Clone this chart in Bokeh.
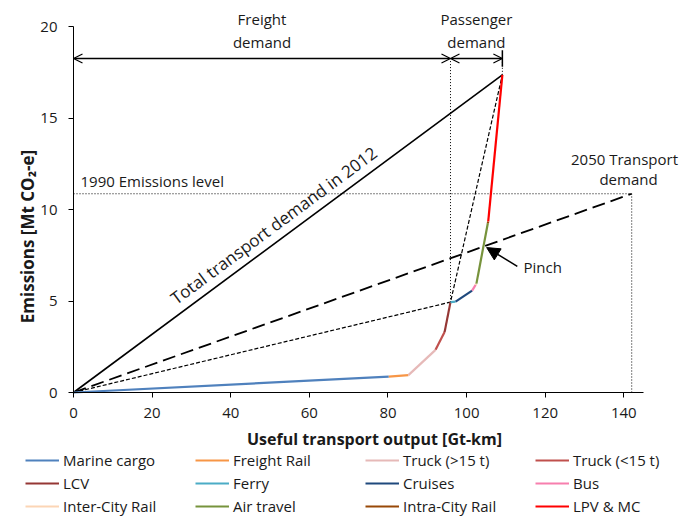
import math
from bokeh.plotting import figure
from bokeh.models import (Range1d, Arrow, OpenHead, NormalHead, Label, Legend,
                          LegendItem, FixedTicker)
from bokeh.embed import file_html
from bokeh.resources import INLINE

# ---------------- data ----------------
modes = ["Marine cargo", "Freight Rail", "Truck (>15 t)", "Truck (<15 t)",
         "LCV", "Ferry", "Cruises", "Bus",
         "Inter-City Rail", "Air travel", "Intra-City Rail", "LPV & MC"]
# cumulative useful output [Gt-km] and cumulative emissions [Mt CO2-e] at end of each mode
cum_output = [80.2, 85.2, 92.1, 94.4, 95.9, 97.2, 101.4, 102.3, 102.5, 105.4, 105.5, 109.1]
cum_emissions = [0.87, 0.95, 2.33, 3.30, 4.94, 4.97, 5.57, 5.88, 5.95, 9.25, 9.35, 17.36]
mode_colors = ["#4F81BD", "#F79646", "#E6B9B8", "#C0504D",
               "#953735", "#4BACC6", "#1F497D", "#F77FAE",
               "#FCD5B5", "#77933C", "#984807", "#FF0000"]

freight_demand = 95.9
freight_emissions = 4.94
total_demand_2012 = 109.1
total_emissions_2012 = 17.36
emissions_1990 = 10.86
demand_2050 = 142.0
bracket_level = 18.25
pinch_tail = (112.9, 6.89)
pinch_head = (105.1, 7.92)

x_ticks = [0, 20, 40, 60, 80, 100, 120, 140]
y_ticks = [0, 5, 10, 15, 20]
X_AXIS_MAX, Y_AXIS_MAX = 145, 20

# ---------------- layout (pixels) ----------------
W, H = 690, 517
FRAME_LEFT, FRAME_TOP = 73, 26
PLOT_W, PLOT_H = 570, 366
FONT = "Open Sans"
TXT = "#1a1a1a"

px_x = PLOT_W / X_AXIS_MAX
px_y = PLOT_H / Y_AXIS_MAX
x_lo = -FRAME_LEFT / px_x
x_hi = (W - FRAME_LEFT) / px_x
y_hi = (FRAME_TOP + PLOT_H) / px_y
y_lo = -(H - FRAME_TOP - PLOT_H) / px_y

p = figure(width=W, height=H,
           x_range=Range1d(x_lo, x_hi), y_range=Range1d(y_lo, y_hi),
           output_backend="svg", toolbar_location=None,
           min_border=0, min_border_left=0, min_border_right=0,
           min_border_top=0, min_border_bottom=0)
p.xgrid.visible = False
p.ygrid.visible = False
p.outline_line_color = None
p.background_fill_color = "white"
p.border_fill_color = "white"

for ax, ticks, bnds in ((p.xaxis[0], x_ticks, (0, X_AXIS_MAX)),
                        (p.yaxis[0], y_ticks, (0, Y_AXIS_MAX))):
    ax.fixed_location = 0
    ax.bounds = bnds
    ax.ticker = FixedTicker(ticks=ticks)
    ax.major_tick_in = 0
    ax.major_tick_out = 5
    ax.minor_tick_line_color = None
    ax.axis_line_color = "black"
    ax.axis_line_width = 1
    ax.major_tick_line_color = "black"
    ax.major_label_text_font = FONT
    ax.major_label_text_font_size = "15px"
    ax.major_label_text_color = TXT
p.xaxis[0].major_label_standoff = 10
p.yaxis[0].major_label_standoff = 11

# ---------------- reference lines ----------------
p.line([0, total_demand_2012], [0, total_emissions_2012], line_color="black", line_width=1.6)
p.line([0, demand_2050], [0, emissions_1990], line_color="black", line_width=1.8,
       line_dash="13 6")
p.line([0, demand_2050], [emissions_1990, emissions_1990], line_color="black",
       line_width=1, line_dash="1 2")
p.line([demand_2050, demand_2050], [0, emissions_1990], line_color="black",
       line_width=1, line_dash="1 2")
p.line([0, freight_demand, total_demand_2012], [0, freight_emissions, total_emissions_2012],
       line_color="black", line_width=1.2, line_dash="4 2")
p.line([freight_demand, freight_demand], [freight_emissions, bracket_level],
       line_color="black", line_width=1, line_dash="1 2")
p.line([total_demand_2012, total_demand_2012], [total_emissions_2012, bracket_level],
       line_color="black", line_width=1, line_dash="1 2")
p.segment(x0=[total_demand_2012], y0=[bracket_level - 0.45],
          x1=[total_demand_2012], y1=[bracket_level + 0.45],
          line_color="black", line_width=1.5)

# ---------------- composite curve ----------------
items = []
prev_x, prev_y = 0.0, 0.0
for name, x1, y1, c in zip(modes, cum_output, cum_emissions, mode_colors):
    r = p.line([prev_x, x1], [prev_y, y1], line_color=c, line_width=2.2)
    items.append(LegendItem(label=name, renderers=[r]))
    prev_x, prev_y = x1, y1

# ---------------- arrows ----------------
for xa, xb in ((0, freight_demand), (freight_demand, total_demand_2012)):
    p.add_layout(Arrow(x_start=xa, y_start=bracket_level, x_end=xb, y_end=bracket_level,
                       start=OpenHead(size=9, line_width=1.2),
                       end=OpenHead(size=9, line_width=1.2), line_width=1.5))
p.add_layout(Arrow(x_start=pinch_tail[0], y_start=pinch_tail[1],
                   x_end=pinch_head[0], y_end=pinch_head[1],
                   end=NormalHead(size=13, fill_color="black", line_color="black"),
                   line_width=1.5))

# ---------------- text ----------------
def lab(text, x, y, align="center", baseline="middle", size="15px", angle=0.0, bold=False):
    p.add_layout(Label(x=x, y=y, text=text, text_font=FONT, text_font_size=size,
                       text_align=align, text_baseline=baseline, angle=angle,
                       text_color=TXT,
                       text_font_style="bold" if bold else "normal"))

def dx(px):
    return (px - FRAME_LEFT) / px_x

def dy(py):
    return (FRAME_TOP + PLOT_H - py) / px_y

lab("Freight", freight_demand / 2, dy(18))
lab("demand", freight_demand / 2, dy(41))
lab("Passenger", (freight_demand + total_demand_2012) / 2, dy(18))
lab("demand", (freight_demand + total_demand_2012) / 2, dy(41))
lab("1990 Emissions level", dx(80), dy(180.5), align="left")
lab("2050 Transport", dx(624), dy(158))
lab("demand", dx(628), dy(178.5))
lab("Pinch", dx(523), dy(266.5), align="left")

ang = math.atan((total_emissions_2012 / total_demand_2012) * px_y / px_x)
tx = dx(280)
lab("Total transport demand in 2012", tx,
    tx * total_emissions_2012 / total_demand_2012 + 0.25,
    baseline="bottom", angle=ang, size="17px")

# axis titles
lab("Useful transport output [Gt-km]", dx(374), dy(438), bold=True, size="16px")
lab("Emissions [Mt CO\u2082-e]", dx(27), dy(236), bold=True, size="17px", angle=math.pi / 2)

# ---------------- legend ----------------
legend = Legend(items=items, location=(25, 1), orientation="horizontal", ncols=4,
                border_line_color=None, background_fill_alpha=0,
                padding=0, margin=0, spacing=3,
                label_height=18, glyph_height=18, glyph_width=34,
                label_standoff=4, label_width=129,
                label_text_font=FONT, label_text_font_size="15px",
                label_text_color=TXT)
p.add_layout(legend, "center")

open("out.html", "w").write(file_html(p, INLINE))
